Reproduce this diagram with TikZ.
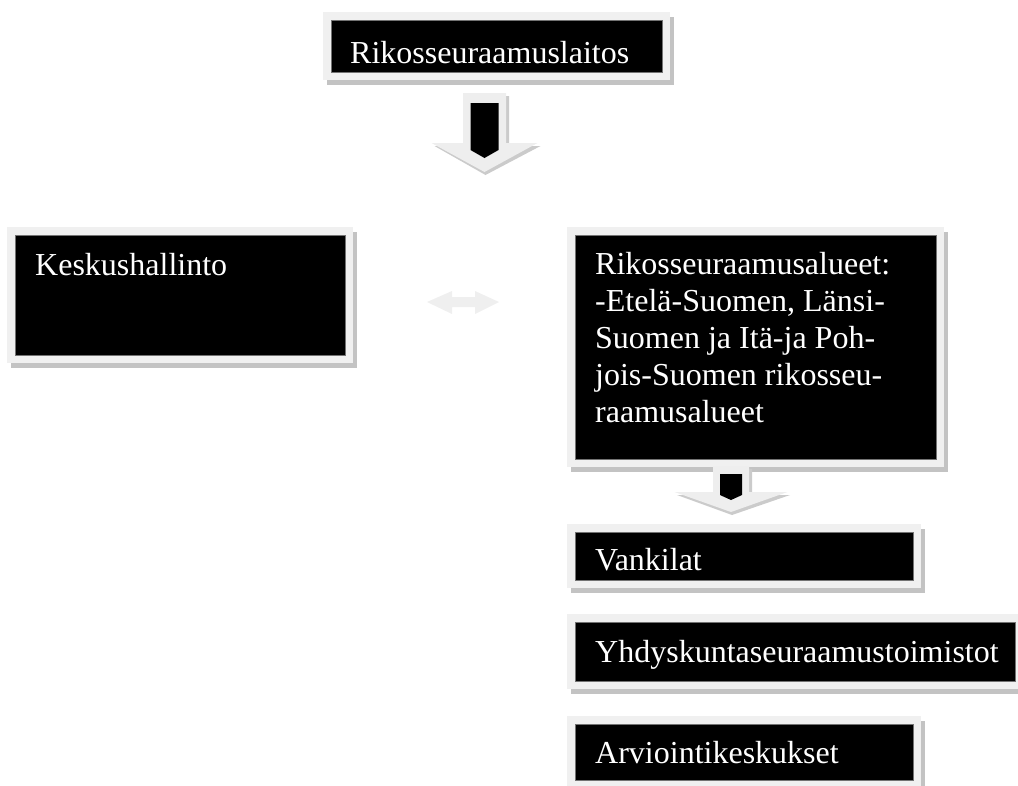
\documentclass[tikz,border=0pt]{standalone}
\usepackage{fontspec}
\setmainfont{Liberation Serif}
\usetikzlibrary{calc}
\definecolor{framegray}{HTML}{F0F0F0}
\definecolor{shadowgray}{HTML}{C3C3C3}
\definecolor{arrowgray}{HTML}{EEEEEE}
\definecolor{arrowshade}{HTML}{CBCBCB}
\definecolor{dblgray}{HTML}{EFEFEF}
\begin{document}
\begin{tikzpicture}[x=1pt,y=-1pt,
  box/.style={fill=black, draw=black!55, line width=0.6pt, inner sep=0pt, outer sep=0pt, anchor=north west,
    preaction={draw=shadowgray, line width=16pt, transform canvas={xshift=3.5pt,yshift=-4.5pt}},
    preaction={draw=framegray, line width=16pt}},
  lbl/.style={text=white, inner sep=0pt, font=\fontsize{32}{37}\selectfont, align=left},
  blockouter/.style={fill=arrowgray},
  blockshade/.style={fill=arrowshade},
  blockinner/.style={fill=black},
  dbl/.style={fill=dblgray}]
\useasboundingbox (0,0) rectangle (1018,785);

% boxes
\node[box, minimum width=331pt, minimum height=52pt] (top) at (331,20) {};
\node[box, minimum width=330pt, minimum height=120pt] (kesk) at (15,235) {};
\node[box, minimum width=361pt, minimum height=224pt] (reg) at (575,235) {};
\node[box, minimum width=338pt, minimum height=48pt] (vank) at (575,532) {};
\node[box, minimum width=440pt, minimum height=59pt] (yhdy) at (575,622) {};
\node[box, minimum width=338pt, minimum height=56pt] (arvi) at (575,724) {};

% texts
\node[lbl, anchor=base west] (ttop) at ([shift={(19,43)}]top.north west) {Rikosseuraamuslaitos};
\node[lbl, anchor=base west] (tkesk) at ([shift={(20,40)}]kesk.north west) {Keskushallinto};
\node[lbl, anchor=north west] (treg) at ([shift={(20,17)}]reg.north west)
  {Rikosseuraamusalueet:\\-Etelä-Suomen, Länsi-\\Suomen ja Itä-ja Poh-\\jois-Suomen rikosseu-\\raamusalueet};
\node[lbl, anchor=base west] (tvank) at ([shift={(20,38)}]vank.north west) {Vankilat};
\node[lbl, anchor=base west] (tyhdy) at ([shift={(20,40)}]yhdy.north west) {Yhdyskuntaseuraamustoimistot};
\node[lbl, anchor=base west] (tarvi) at ([shift={(20,39)}]arvi.north west) {Arviointikeskukset};

% block arrow 1 (below top box)
\coordinate (a1) at ([shift={(-12,21)}]top.south);
\fill[blockshade] ($(a1)+(-18.5,3)$) -- ($(a1)+(24.5,3)$) -- ($(a1)+(24.5,53)$) -- ($(a1)+(56,53)$)
  -- ($(a1)+(1,82)$) -- ($(a1)+(-50,53)$) -- ($(a1)+(-18.5,53)$) -- cycle;
\fill[blockouter] ($(a1)+(-21.5,0)$) -- ($(a1)+(21.5,0)$) -- ($(a1)+(21.5,50)$) -- ($(a1)+(53,50)$)
  -- ($(a1)+(0,79)$) -- ($(a1)+(-53,50)$) -- ($(a1)+(-21.5,50)$) -- cycle;
\fill[blockinner] ($(a1)+(-14,10)$) -- ($(a1)+(14,10)$) -- ($(a1)+(14,57)$) -- ($(a1)+(0,65)$)
  -- ($(a1)+(-14,57)$) -- cycle;

% double arrow between Keskushallinto and regions
\coordinate (d1) at ([shift={(118,7)}]kesk.east);
\fill[dbl] ($(d1)+(-36,0)$) -- ($(d1)+(-11,-11)$) -- ($(d1)+(-11,-5)$) -- ($(d1)+(12,-5)$)
  -- ($(d1)+(12,-11)$) -- ($(d1)+(36,0)$) -- ($(d1)+(12,12)$) -- ($(d1)+(12,5)$)
  -- ($(d1)+(-11,5)$) -- ($(d1)+(-11,12)$) -- cycle;

% block arrow 2 (below regions box)
\coordinate (a2) at ([shift={(-24.5,7)}]reg.south);
\fill[blockshade] ($(a2)+(-15,3)$) -- ($(a2)+(21,3)$) -- ($(a2)+(21,29)$) -- ($(a2)+(59,29)$)
  -- ($(a2)+(1,49)$) -- ($(a2)+(-54,29)$) -- ($(a2)+(-15,29)$) -- cycle;
\fill[blockouter] ($(a2)+(-18,0)$) -- ($(a2)+(18,0)$) -- ($(a2)+(18,26)$) -- ($(a2)+(56.5,26)$)
  -- ($(a2)+(0,46)$) -- ($(a2)+(-56.5,26)$) -- ($(a2)+(-18,26)$) -- cycle;
\fill[blockinner] ($(a2)+(-11,8)$) -- ($(a2)+(11,8)$) -- ($(a2)+(11,29)$) -- ($(a2)+(0,34)$)
  -- ($(a2)+(-11,29)$) -- cycle;
\end{tikzpicture}
\end{document}
